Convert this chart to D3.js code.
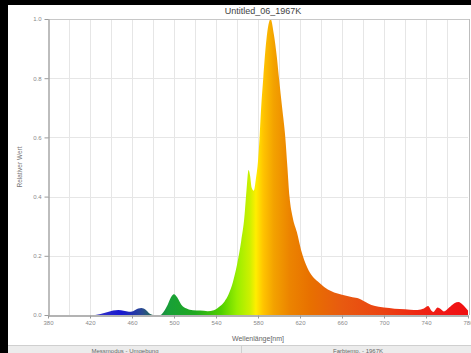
<!DOCTYPE html>
<html>
<head>
<meta charset="utf-8">
<script src="https://cdn.jsdelivr.net/npm/d3@7"></script>
<style>
  body { margin: 0; background: #000; }
  svg { display: block; font-family: "Liberation Sans", Arial, sans-serif; }
</style>
</head>
<body>
<svg width="471" height="353"></svg>
<script>
// spectrum
const wavelengths = [380, 425, 430, 437, 442, 447, 452, 457, 461, 466, 469, 473, 477, 480,
  487, 490, 494, 498, 500, 503, 507, 512, 518, 525, 532, 538, 544, 548, 552, 556, 560,
  564, 567, 569, 571, 572.5, 574, 576, 578, 580, 581.5, 583, 585, 588, 592, 595, 598, 600,
  603, 606, 608, 610, 613, 617, 621, 627, 632, 637, 643, 650, 660, 670, 676, 682, 688,
  695, 705, 715, 725, 732, 738, 742, 745, 747, 751, 754, 757, 762, 767, 771, 775, 780];
const values = [0, 0, 0.003, 0.01, 0.015, 0.017, 0.014, 0.011, 0.013, 0.022, 0.024, 0.018, 0.004, 0,
  0, 0.01, 0.035, 0.065, 0.07, 0.06, 0.035, 0.022, 0.016, 0.015, 0.013, 0.016, 0.03, 0.045, 0.07, 0.11, 0.17,
  0.25, 0.33, 0.42, 0.49, 0.47, 0.43, 0.42, 0.46, 0.52, 0.6, 0.7, 0.8, 0.93, 1.0, 0.95, 0.87, 0.8,
  0.7, 0.6, 0.5, 0.4, 0.33, 0.28, 0.22, 0.16, 0.13, 0.113, 0.095, 0.08, 0.068, 0.06, 0.056, 0.045, 0.034,
  0.028, 0.024, 0.02, 0.018, 0.017, 0.022, 0.03, 0.015, 0.01, 0.025, 0.02, 0.012, 0.025, 0.04, 0.044, 0.035, 0.015];
const xTicks = [380, 420, 460, 500, 540, 580, 620, 660, 700, 740, 780];
const yTicks = [0, 0.2, 0.4, 0.6, 0.8, 1.0];
// colour of the fill along the wavelength axis
const stopNm = [430, 450, 470, 480, 495, 520, 545, 560, 572, 578, 585, 595, 610, 630, 660, 700, 730, 760, 780];
const stopColor = ["#3030c8", "#1818d0", "#2a4a90", "#207050", "#18a038", "#20a820", "#50d000", "#99ee00",
  "#ccf000", "#ffee00", "#ffc400", "#f3a200", "#ec8400", "#e87000", "#e85a10", "#eb4212", "#ee2812", "#f01616", "#f01010"];

const svg = d3.select("svg");
const data = wavelengths.map((w, i) => ({ w: w, v: values[i] }));

// page frame
svg.append("rect").attr("x", 8).attr("y", 5).attr("width", 463).attr("height", 348).attr("fill", "#fff");
svg.append("rect").attr("x", 8).attr("y", 345).attr("width", 463).attr("height", 8).attr("fill", "#ececec");
svg.append("line").attr("x1", 8).attr("x2", 471).attr("y1", 345.5).attr("y2", 345.5).attr("stroke", "#cfcfcf");
svg.append("line").attr("x1", 241.5).attr("x2", 241.5).attr("y1", 346).attr("y2", 353).attr("stroke", "#cfcfcf");
svg.append("text").attr("x", 125).attr("y", 353).attr("text-anchor", "middle")
  .attr("font-size", "6px").attr("fill", "#666").text("Messmodus - Umgebung");
svg.append("text").attr("x", 358).attr("y", 353).attr("text-anchor", "middle")
  .attr("font-size", "6px").attr("fill", "#666").text("Farbtemp. - 1967K");

const x = d3.scaleLinear().domain([380, 780]).range([48, 468]);
const y = d3.scaleLinear().domain([0, 1]).range([315, 19]);

// grid
const grid = svg.append("g").attr("stroke", "#e6e6e6").attr("stroke-width", 1);
grid.selectAll(".vg").data(d3.range(400, 780, 20)).enter().append("line")
  .attr("x1", d => Math.round(x(d)) + 0.5).attr("x2", d => Math.round(x(d)) + 0.5)
  .attr("y1", 19).attr("y2", 315);
grid.selectAll(".hg").data(yTicks.slice(1, 5)).enter().append("line")
  .attr("x1", 48).attr("x2", 468)
  .attr("y1", d => Math.round(y(d)) + 0.5).attr("y2", d => Math.round(y(d)) + 0.5);

// gradient fill
const grad = svg.append("defs").append("linearGradient").attr("id", "spec")
  .attr("gradientUnits", "userSpaceOnUse")
  .attr("x1", x(380)).attr("x2", x(780)).attr("y1", 0).attr("y2", 0);
grad.selectAll("stop").data(stopNm).enter().append("stop")
  .attr("offset", d => (d - 380) / 400)
  .attr("stop-color", (d, i) => stopColor[i]);

const area = d3.area().curve(d3.curveMonotoneX)
  .x(d => x(d.w)).y0(y(0)).y1(d => y(d.v));
svg.append("path").datum(data).attr("d", area).attr("fill", "url(#spec)");

// frame lines
svg.append("line").attr("x1", 48).attr("x2", 469).attr("y1", 19.5).attr("y2", 19.5).attr("stroke", "#c8c8c8");
svg.append("line").attr("x1", 469.5).attr("x2", 469.5).attr("y1", 19).attr("y2", 315).attr("stroke", "#bdbdbd");

// axes
const xAxis = svg.append("g").attr("transform", "translate(0,315.5)")
  .call(d3.axisBottom(x).tickValues(xTicks).tickFormat(d3.format("d")).tickSize(3).tickSizeOuter(0));
const yAxis = svg.append("g").attr("transform", "translate(48.5,0)")
  .call(d3.axisLeft(y).tickValues(yTicks).tickFormat(d3.format(".1f")).tickSize(4).tickSizeOuter(0));
[xAxis, yAxis].forEach(a => {
  a.select(".domain").attr("stroke", "#9a9a9a").attr("stroke-width", 1.3);
  a.selectAll(".tick line").attr("stroke", "#9a9a9a");
  a.selectAll(".tick text").attr("fill", "#8a8a8a").attr("font-size", "6px")
    .attr("font-family", "Liberation Sans, Arial, sans-serif");
});
xAxis.selectAll(".tick text").attr("dy", "0.5em");

// titles
svg.append("text").attr("x", 263).attr("y", 14).attr("text-anchor", "middle")
  .attr("font-size", "9px").attr("fill", "#444").text("Untitled_06_1967K");
svg.append("text").attr("x", 258).attr("y", 341).attr("text-anchor", "middle")
  .attr("font-size", "7px").attr("fill", "#666").text("Wellenlänge[nm]");
svg.append("text").attr("transform", "translate(22,167) rotate(-90)").attr("text-anchor", "middle")
  .attr("font-size", "6.5px").attr("fill", "#777").text("Relativer Wert");
</script>
</body>
</html>
